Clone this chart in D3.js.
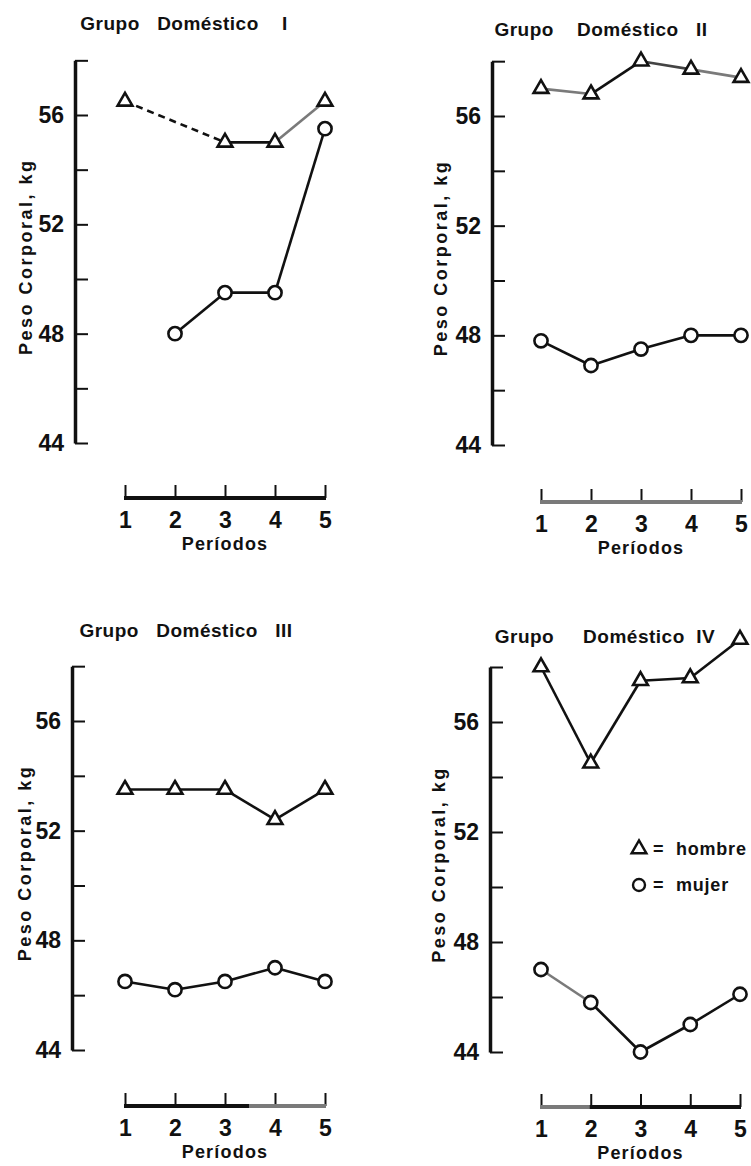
<!DOCTYPE html>
<html><head><meta charset="utf-8">
<script src="https://cdn.jsdelivr.net/npm/d3@7"></script>
<style>
html,body{margin:0;padding:0;background:#fff;}
text{font-family:"Liberation Sans","Arial",sans-serif;font-weight:700;fill:#111;}
</style></head>
<body>
<svg id="chart" width="751" height="1166"></svg>
<script>
// ---- data ----
const periods = [1, 2, 3, 4, 5];
const yTickValues = [44, 46, 48, 50, 52, 54, 56, 58];
const yTickLabels = ["44", "", "48", "", "52", "", "56", ""];
const groupTitles = ["Grupo   Doméstico    I", "Grupo    Doméstico   II", "Grupo   Doméstico   III", "Grupo     Doméstico  IV"];
const yLabel = "Peso Corporal, kg";
const xLabel = "Períodos";
const legendLabels = ["=  hombre", "=  mujer"];

const hombreI   = [56.5, null, 55.0, 55.0, 56.5];
const mujerI    = [null, 48.0, 49.5, 49.5, 55.5];
const hombreII  = [57.0, 56.8, 58.0, 57.7, 57.4];
const mujerII   = [47.8, 46.9, 47.5, 48.0, 48.0];
const hombreIII = [53.5, 53.5, 53.5, 52.4, 53.5];
const mujerIII  = [46.5, 46.2, 46.5, 47.0, 46.5];
const hombreIV  = [58.0, 54.5, 57.5, 57.6, 59.0];
const mujerIV   = [47.0, 45.8, 44.0, 45.0, 46.1];

// ---- layout / styles ----
const GRAY = "#7a7a7a";
const panels = [
  {title: groupTitles[0], tx: 184, ty: 30, ax: 75, y44: 443, y56: 115, x1: 125, x5: 325, xy: 498, ylx: 32,
   hombre: hombreI, mujer: mujerI,
   hSeg: {0: "dashed", 2: "solid", 3: "gray"}, mSeg: {}, xGray: null},
  {title: groupTitles[1], tx: 601, ty: 36, ax: 492, y44: 445, y56: 116, x1: 541, x5: 741, xy: 502, ylx: 447,
   hombre: hombreII, mujer: mujerII,
   hSeg: {0: "gray", 2: "darkgray", 3: "gray"}, mSeg: {}, xGray: [1, 5]},
  {title: groupTitles[2], tx: 186, ty: 637, ax: 72, y44: 1050, y56: 721, x1: 125, x5: 325, xy: 1106, ylx: 31,
   hombre: hombreIII, mujer: mujerIII,
   hSeg: {}, mSeg: {}, xGray: [3.5, 5]},
  {title: groupTitles[3], tx: 605, ty: 643, ax: 490, y44: 1052, y56: 722, x1: 541, x5: 740, xy: 1107, ylx: 445,
   hombre: hombreIV, mujer: mujerIV,
   hSeg: {}, mSeg: {0: "gray"}, xGray: [1, 2], legend: {x: 639, y: 849}}
];

const svg = d3.select("#chart");

function segStyle(sel, s) {
  sel.attr("stroke", s === "gray" ? GRAY : (s === "darkgray" ? "#444" : "#111"))
     .attr("stroke-dasharray", s === "dashed" ? "7,5" : null);
}

const triPath = d3.symbol().type(d3.symbolTriangle).size(95);

panels.forEach(p => {
  const g = svg.append("g");
  const y58 = p.y44 + (p.y56 - p.y44) * 14 / 12;
  const y = d3.scaleLinear().domain([44, 58]).range([p.y44, y58]);
  const x = d3.scaleLinear().domain([1, 5]).range([p.x1, p.x5]);

  // title
  g.append("text").attr("x", p.tx).attr("y", p.ty).attr("text-anchor", "middle")
    .style("white-space", "pre").attr("font-size", 19).attr("letter-spacing", 0.5).text(p.title);

  // y axis
  const yAxis = d3.axisLeft(y).tickValues(yTickValues)
    .tickFormat((d, i) => yTickLabels[i]).tickSizeInner(-13).tickSizeOuter(0).tickPadding(11);
  const ya = g.append("g").attr("transform", `translate(${p.ax},0)`).call(yAxis);
  ya.select(".domain").attr("stroke", "#111").attr("stroke-width", 3.5);
  ya.selectAll(".tick line").attr("stroke", "#111").attr("stroke-width", 2);
  ya.selectAll(".tick text").attr("font-size", 23).attr("font-family", "Liberation Sans, Arial, sans-serif")
    .attr("font-weight", 700).attr("fill", "#111");

  // y label
  const ymid = (p.y44 + y58) / 2 + 5;
  g.append("text").attr("transform", `translate(${p.ylx},${ymid}) rotate(-90)`)
    .attr("text-anchor", "middle").attr("font-size", 18).attr("letter-spacing", 2.5).text(yLabel);

  // x axis
  const xAxis = d3.axisBottom(x).tickValues(periods).tickFormat(d3.format("d"))
    .tickSizeInner(-13).tickSizeOuter(0).tickPadding(14);
  const xa = g.append("g").attr("transform", `translate(0,${p.xy})`).call(xAxis);
  xa.select(".domain").remove();
  xa.selectAll(".tick line").attr("stroke", "#111").attr("stroke-width", 2);
  xa.selectAll(".tick text").attr("font-size", 23).attr("font-family", "Liberation Sans, Arial, sans-serif")
    .attr("font-weight", 700).attr("fill", "#111");
  const parts = [];
  if (!p.xGray) parts.push([1, 5, "#111"]);
  else {
    if (p.xGray[0] > 1) parts.push([1, p.xGray[0], "#111"]);
    parts.push([p.xGray[0], p.xGray[1], GRAY]);
    if (p.xGray[1] < 5) parts.push([p.xGray[1], 5, "#111"]);
  }
  g.selectAll(null).data(parts).join("line")
    .attr("x1", d => x(d[0]) - 1).attr("x2", d => x(d[1]) + 1)
    .attr("y1", p.xy).attr("y2", p.xy).attr("stroke", d => d[2]).attr("stroke-width", 4);
  g.append("text").attr("x", (p.x1 + p.x5) / 2).attr("y", p.xy + 52).attr("text-anchor", "middle")
    .attr("font-size", 18).attr("letter-spacing", 1.2).text(xLabel);

  // series lines
  [[p.hombre, p.hSeg], [p.mujer, p.mSeg]].forEach(([vals, segs]) => {
    const pts = periods.map((t, i) => ({t, v: vals[i], i})).filter(d => d.v != null);
    for (let k = 0; k < pts.length - 1; k++) {
      const a = pts[k], b = pts[k + 1];
      const l = g.append("line").attr("x1", x(a.t)).attr("y1", y(a.v))
        .attr("x2", x(b.t)).attr("y2", y(b.v)).attr("stroke-width", 2.6);
      segStyle(l, segs[a.i] || "solid");
    }
  });

  // markers
  const hp = periods.map((t, i) => ({t, v: p.hombre[i]})).filter(d => d.v != null);
  const mp = periods.map((t, i) => ({t, v: p.mujer[i]})).filter(d => d.v != null);
  g.selectAll(null).data(hp).join("path")
    .attr("d", triPath).attr("transform", d => `translate(${x(d.t)},${y(d.v)})`)
    .attr("fill", "#fff").attr("stroke", "#111").attr("stroke-width", 2.6);
  g.selectAll(null).data(mp).join("circle")
    .attr("cx", d => x(d.t)).attr("cy", d => y(d.v)).attr("r", 6.6)
    .attr("fill", "#fff").attr("stroke", "#111").attr("stroke-width", 2.6);

  // legend
  if (p.legend) {
    const L = p.legend;
    g.append("path").attr("d", triPath).attr("transform", `translate(${L.x},${L.y})`)
      .attr("fill", "#fff").attr("stroke", "#111").attr("stroke-width", 2.4);
    g.append("text").attr("x", L.x + 14).attr("y", L.y + 6).style("white-space", "pre")
      .attr("font-size", 18).attr("letter-spacing", 0.8).text(legendLabels[0]);
    g.append("circle").attr("cx", L.x).attr("cy", L.y + 36).attr("r", 6)
      .attr("fill", "#fff").attr("stroke", "#111").attr("stroke-width", 2.4);
    g.append("text").attr("x", L.x + 14).attr("y", L.y + 42).style("white-space", "pre")
      .attr("font-size", 18).attr("letter-spacing", 0.8).text(legendLabels[1]);
  }
});
</script>
</body></html>
